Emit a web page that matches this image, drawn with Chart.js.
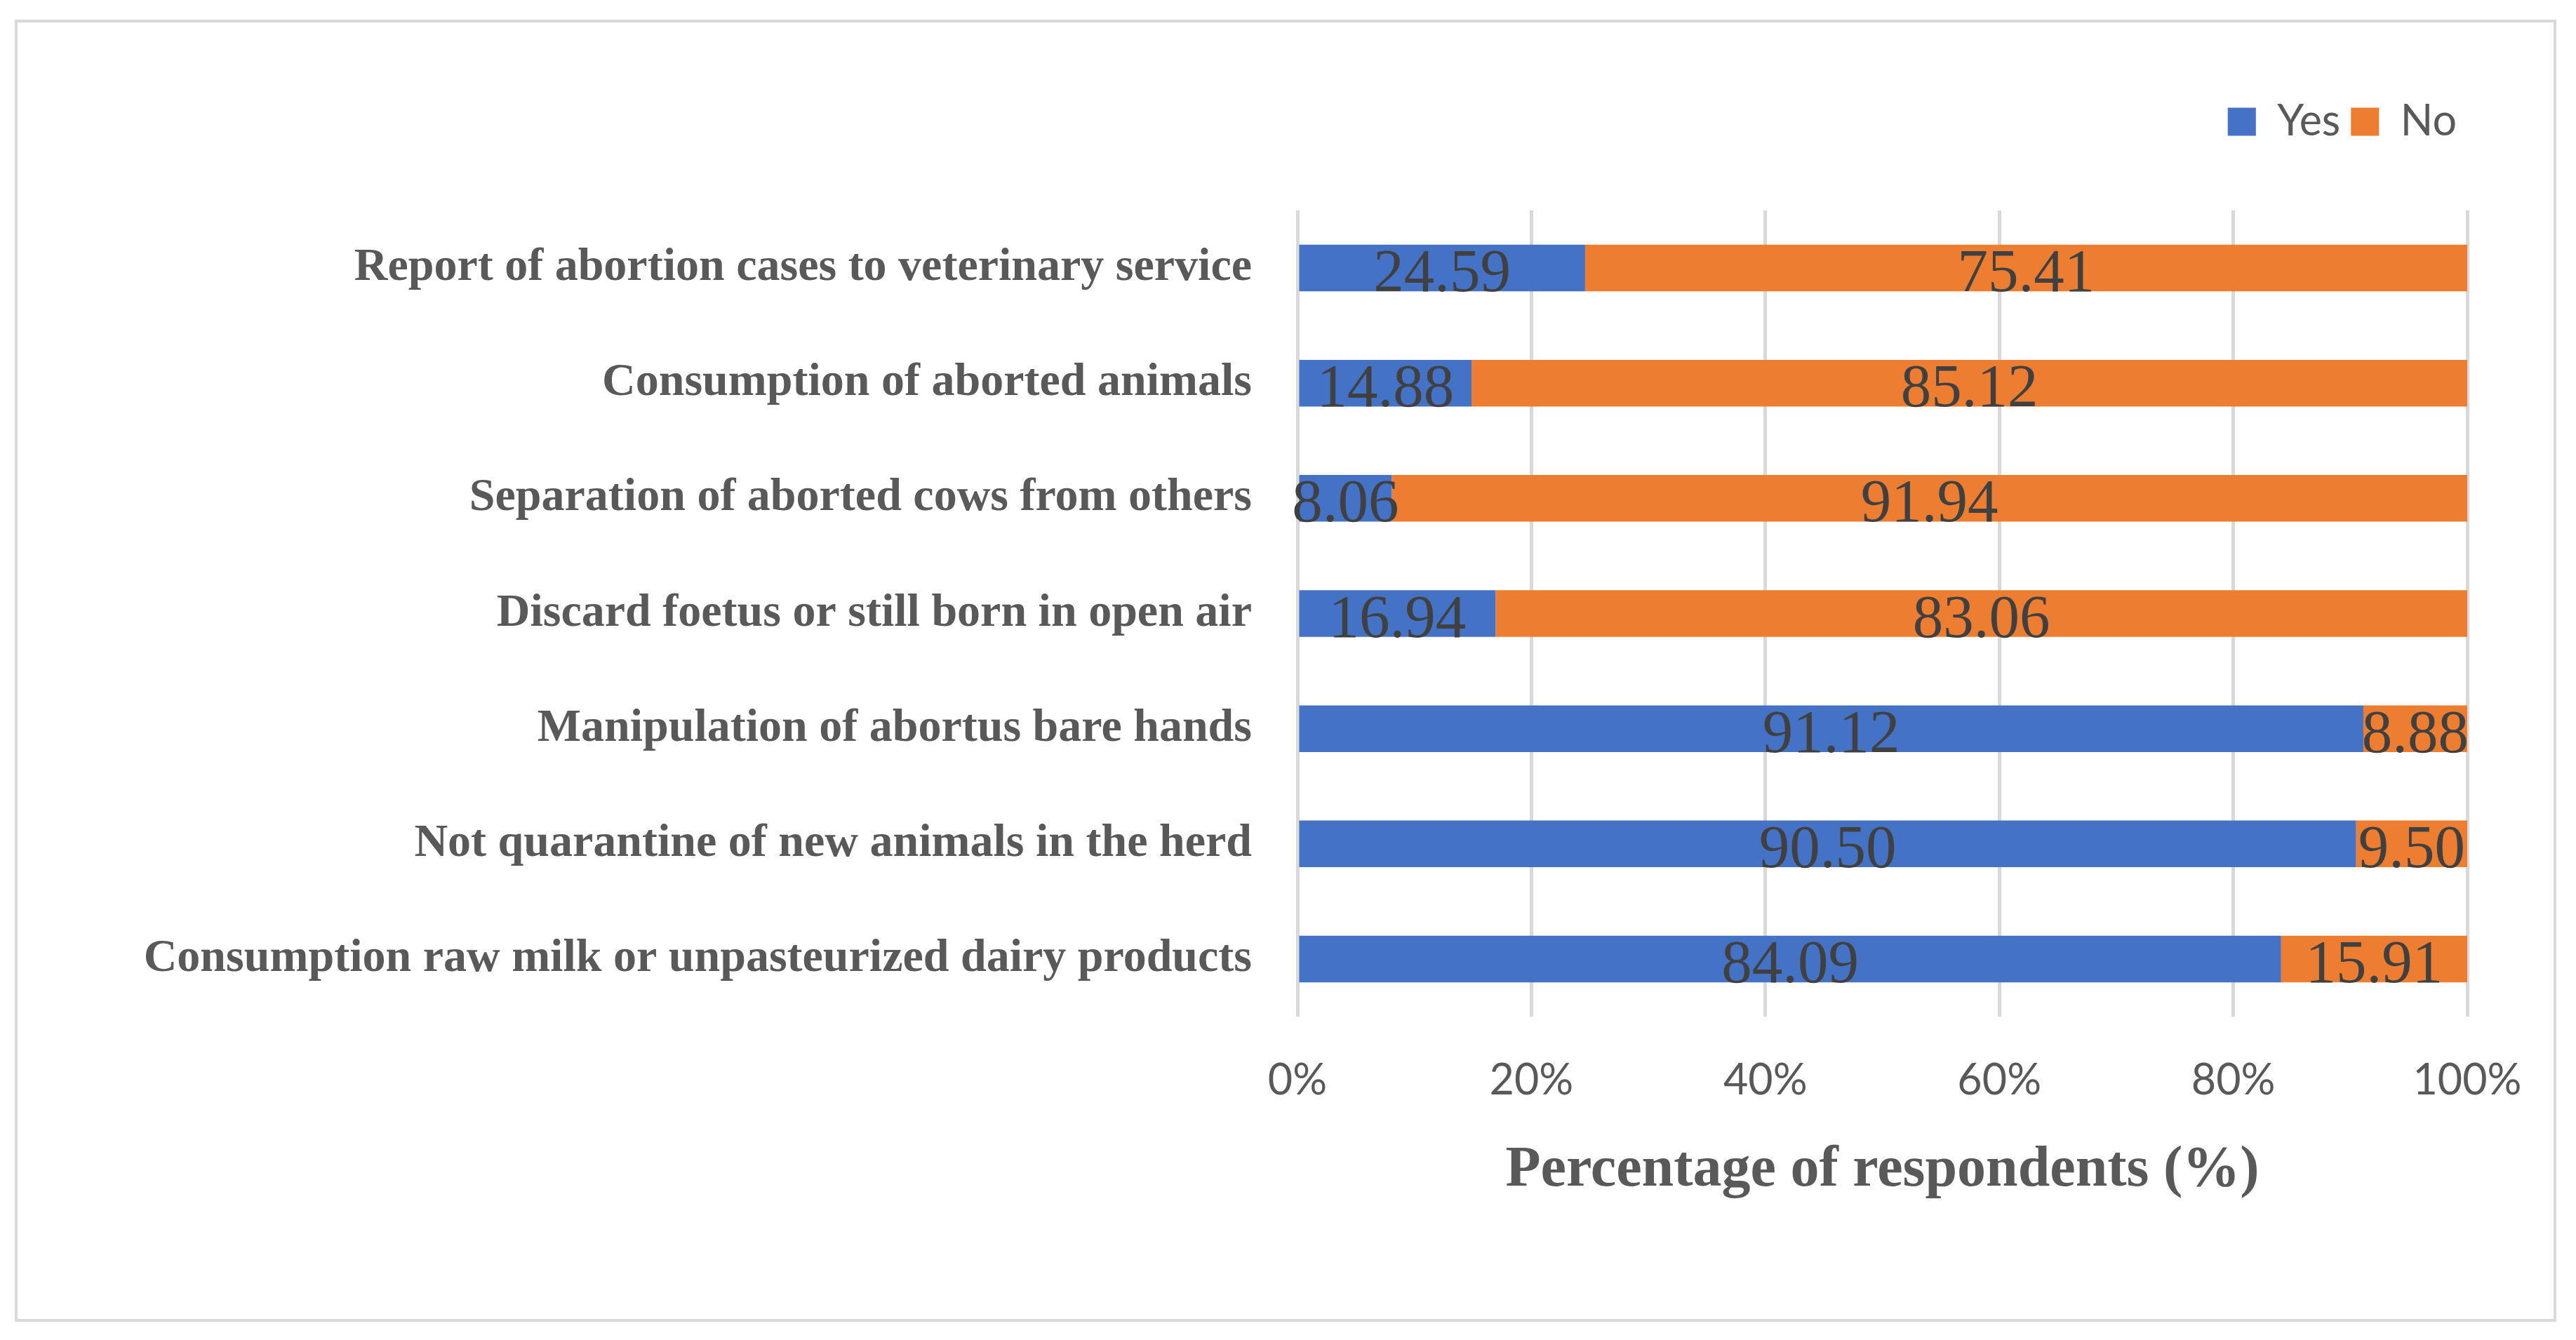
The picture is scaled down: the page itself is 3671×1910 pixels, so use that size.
<!DOCTYPE html>
<html>
<head>
<meta charset="utf-8">
<script src="https://cdn.jsdelivr.net/npm/chart.js@4.4.1/dist/chart.umd.min.js"></script>
<style>
  html, body { margin: 0; padding: 0; background: #ffffff; }
  canvas { display: block; }
</style>
</head>
<body>
<canvas id="c" width="3671" height="1910" style="width:3671px;height:1910px"></canvas>
<script>
const categories = [
  "Report of abortion cases to veterinary service",
  "Consumption of aborted animals",
  "Separation of aborted cows from others",
  "Discard foetus or still born in open air",
  "Manipulation of abortus bare hands",
  "Not quarantine of new animals in the herd",
  "Consumption raw milk or unpasteurized dairy products"
];
const yesValues = [24.59, 14.88, 8.06, 16.94, 91.12, 90.50, 84.09];
const noValues  = [75.41, 85.12, 91.94, 83.06, 8.88, 9.50, 15.91];
const seriesNames = ["Yes", "No"];
const xTicks = [0, 20, 40, 60, 80, 100];
const axisTitle = "Percentage of respondents (%)";

const frame = {
  id: 'frame',
  beforeDraw(chart) {
    const ctx = chart.ctx;
    ctx.save();
    ctx.fillStyle = '#ffffff';
    ctx.fillRect(0, 0, chart.width, chart.height);
    ctx.strokeStyle = '#D9D9D9';
    ctx.lineWidth = 4;
    ctx.strokeRect(23, 30, 3618, 1852);
    ctx.restore();
  }
};

const legendGap = {
  id: 'legendGap',
  beforeInit(chart) {
    const lg = chart.legend;
    if (!lg) return;
    const orig = lg.fit;
    lg.fit = function () {
      orig.call(this);
      this.height += 86;
    };
  }
};

const valueLabels = {
  id: 'valueLabels',
  afterDatasetsDraw(chart) {
    const ctx = chart.ctx;
    const size = 87;
    ctx.save();
    ctx.font = size + 'px "Liberation Serif"';
    ctx.fillStyle = '#404040';
    ctx.textAlign = 'center';
    ctx.textBaseline = 'alphabetic';
    chart.data.datasets.forEach((ds, di) => {
      const meta = chart.getDatasetMeta(di);
      meta.data.forEach((bar, i) => {
        const p = bar.getCenterPoint();
        ctx.fillText(ds.data[i].toFixed(2), p.x, p.y + size * 0.38);
      });
    });
    ctx.restore();
  }
};

new Chart(document.getElementById('c'), {
  type: 'bar',
  data: {
    labels: categories,
    datasets: [
      { label: seriesNames[0], data: yesValues, backgroundColor: '#4472C4', categoryPercentage: 1, barPercentage: 0.405 },
      { label: seriesNames[1], data: noValues, backgroundColor: '#ED7D31', categoryPercentage: 1, barPercentage: 0.405 }
    ]
  },
  options: {
    indexAxis: 'y',
    responsive: false,
    animation: false,
    devicePixelRatio: 1,
    layout: { padding: { top: 128, right: 155, bottom: 0, left: 0 } },
    plugins: {
      legend: {
        position: 'top',
        align: 'end',
        labels: {
          boxWidth: 40,
          boxHeight: 40,
          padding: 15,
          color: '#595959',
          font: { family: 'Lato', size: 61 }
        }
      },
      tooltip: { enabled: false }
    },
    scales: {
      x: {
        stacked: true,
        min: 0,
        max: 100,
        afterBuildTicks(scale) { scale.ticks = xTicks.map(v => ({ value: v })); },
        afterFit(scale) { scale.height = 461; },
        grid: { color: '#D9D9D9', lineWidth: 5, drawTicks: false },
        border: { display: false },
        ticks: {
          padding: 55,
          color: '#595959',
          font: { family: 'Lato', size: 61 },
          callback: v => v + '%'
        },
        title: {
          display: true,
          text: axisTitle,
          color: '#595959',
          font: { family: 'Liberation Serif', size: 82, weight: 'bold' },
          padding: { top: 0, bottom: 192 }
        }
      },
      y: {
        stacked: true,
        afterFit(scale) { scale.width = 1849; },
        grid: { display: false, drawTicks: false },
        border: { display: false },
        ticks: {
          padding: 65,
          color: '#595959',
          font: { family: 'Liberation Serif', size: 66, weight: 'bold' }
        }
      }
    }
  },
  plugins: [frame, legendGap, valueLabels]
});
</script>
</body>
</html>
